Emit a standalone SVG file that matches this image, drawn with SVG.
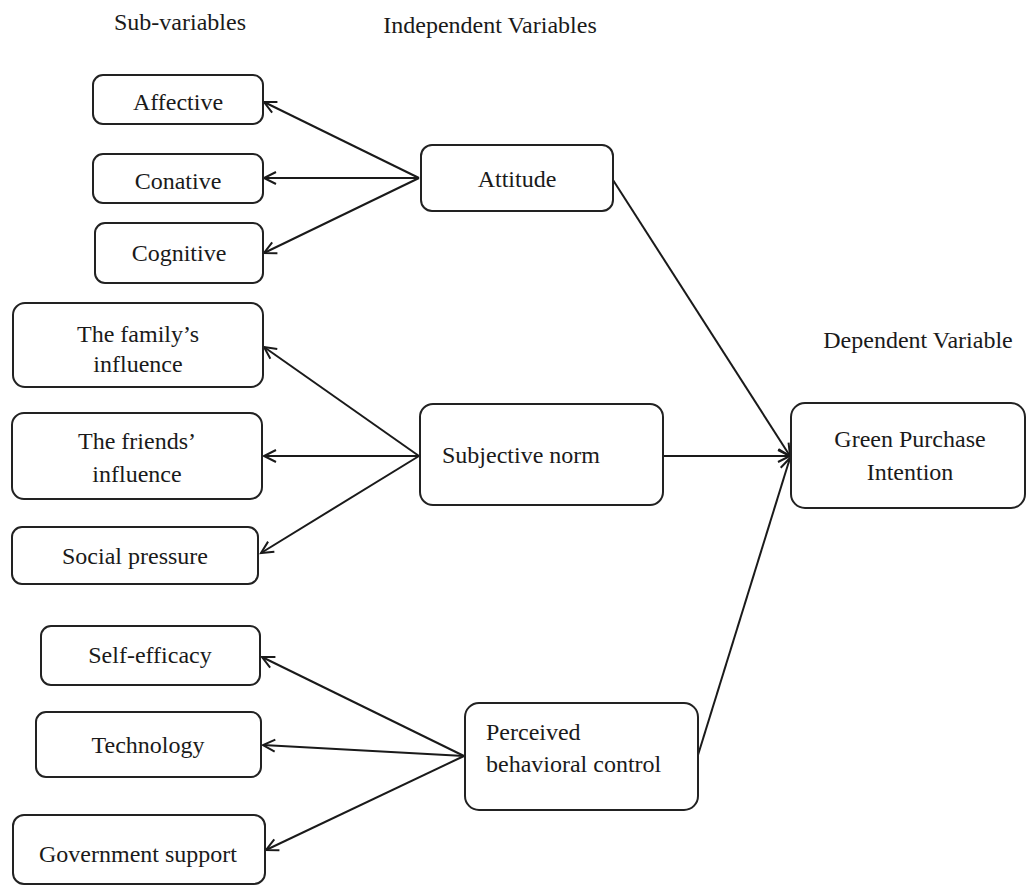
<svg xmlns="http://www.w3.org/2000/svg" width="1027" height="886" viewBox="0 0 1027 886" font-family="Liberation Serif, DejaVu Serif, serif">
<style>
.box{fill:#fff;stroke:#222;stroke-width:2}
text{font-family:"Liberation Serif","DejaVu Serif",serif;font-size:24px;fill:#1a1a1a}
.c{text-anchor:middle}
.ln{stroke:#1a1a1a;stroke-width:2;fill:none;marker-end:url(#arr)}
</style>
<defs>
<marker id="arr" markerWidth="16" markerHeight="16" refX="13" refY="8" orient="auto" markerUnits="userSpaceOnUse">
<polyline points="1,2 13,8 1,14" fill="none" stroke="#1a1a1a" stroke-width="2"/>
</marker>
</defs>
<rect width="1027" height="886" fill="#fff"/>
<g id="headers">
<text x="180" y="30" class="c">Sub-variables</text>
<text x="490" y="33" class="c">Independent Variables</text>
<text x="918" y="348" class="c">Dependent Variable</text>
</g>
<g id="connectors">
<line class="ln" x1="419" y1="178" x2="264" y2="102"/>
<line class="ln" x1="419" y1="178" x2="264" y2="178"/>
<line class="ln" x1="419" y1="178" x2="264" y2="253"/>
<line class="ln" x1="419" y1="456" x2="264" y2="347"/>
<line class="ln" x1="419" y1="456" x2="264" y2="456"/>
<line class="ln" x1="419" y1="456" x2="261" y2="553"/>
<line class="ln" x1="464" y1="756" x2="262" y2="657"/>
<line class="ln" x1="464" y1="756" x2="263" y2="745"/>
<line class="ln" x1="464" y1="756" x2="266" y2="850"/>
<line class="ln" x1="613" y1="180" x2="790" y2="456"/>
<line class="ln" x1="663" y1="456" x2="790" y2="456"/>
<line class="ln" x1="698" y1="755" x2="790" y2="458"/>
</g>
<g id="affective"><rect class="box" x="93" y="75" width="170" height="49" rx="10"/><text x="178" y="110" class="c">Affective</text></g>
<g id="conative"><rect class="box" x="93" y="154" width="170" height="49" rx="10"/><text x="178" y="189" class="c">Conative</text></g>
<g id="cognitive"><rect class="box" x="95" y="223" width="168" height="60" rx="10"/><text x="179" y="261" class="c">Cognitive</text></g>
<g id="attitude"><rect class="box" x="421" y="145" width="192" height="66" rx="11"/><text x="517" y="187" class="c">Attitude</text></g>
<g id="family"><rect class="box" x="13" y="303" width="250" height="84" rx="12"/><text x="138" y="342" class="c">The family’s</text><text x="138" y="372" class="c">influence</text></g>
<g id="friends"><rect class="box" x="12" y="413" width="250" height="86" rx="12"/><text x="137" y="449" class="c">The friends’</text><text x="137" y="482" class="c">influence</text></g>
<g id="social"><rect class="box" x="12" y="527" width="246" height="57" rx="10"/><text x="135" y="564" class="c">Social pressure</text></g>
<g id="subjective"><rect class="box" x="420" y="404" width="243" height="101" rx="13"/><text x="442" y="463">Subjective norm</text></g>
<g id="selfefficacy"><rect class="box" x="41" y="626" width="219" height="59" rx="10"/><text x="150" y="663" class="c">Self-efficacy</text></g>
<g id="technology"><rect class="box" x="36" y="712" width="225" height="65" rx="10"/><text x="148" y="753" class="c">Technology</text></g>
<g id="government"><rect class="box" x="13" y="815" width="252" height="69" rx="11"/><text x="138" y="862" class="c">Government support</text></g>
<g id="perceived"><rect class="box" x="465" y="703" width="233" height="107" rx="14"/><text x="486" y="740">Perceived</text><text x="486" y="772">behavioral control</text></g>
<g id="green"><rect class="box" x="791" y="403" width="234" height="105" rx="14"/><text x="910" y="447" class="c">Green Purchase</text><text x="910" y="480" class="c">Intention</text></g>
</svg>
